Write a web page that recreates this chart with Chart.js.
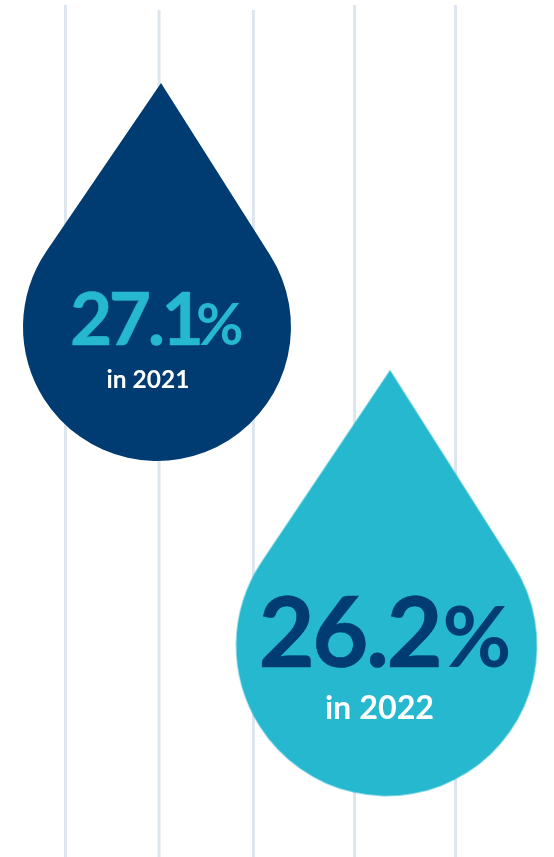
<!DOCTYPE html>
<html>
<head>
<meta charset="utf-8">
<title>Rate by year</title>
<script src="https://cdn.jsdelivr.net/npm/chart.js@4"></script>
<style>
  html, body { margin: 0; padding: 0; background: #ffffff; }
  canvas { display: block; }
</style>
</head>
<body>
<canvas id="dropChart" width="554" height="857"></canvas>
<script>
// Values shown on the drops
const years = [2021, 2022];
const rates = [27.1, 26.2];

// Vertical rules behind the drops, in axis units
const ruleYears = [2020.601, 2021.009, 2021.42, 2021.861, 2022.301];
const ruleTops = [28.01, 27.996, 27.996, 28.01, 28.01];
const ruleBottom = 25.6;

const NAVY = '#003c71';
const TEAL = '#25b8ce';
const RULE = '#dde6ef';

// Drop shape: circle of radius r plus a tip at (tipX, tipY) from its centre.
// The canvas is centred on the circle so the point lands on the circle centre.
function makeDrop(color, r, tipX, tipY) {
  const half = Math.ceil(Math.max(r, Math.hypot(tipX, tipY))) + 2;
  const c = document.createElement('canvas');
  c.width = half * 2;
  c.height = half * 2;
  const ctx = c.getContext('2d');
  const d = Math.hypot(tipX, tipY);
  const base = Math.atan2(tipY, tipX);
  const spread = Math.acos(r / d);
  ctx.translate(half, half);
  ctx.beginPath();
  ctx.moveTo(tipX, tipY);
  ctx.arc(0, 0, r, base + spread, base - spread + Math.PI * 2);
  ctx.closePath();
  ctx.fillStyle = color;
  ctx.fill();
  return c;
}

const drops = [
  makeDrop(NAVY, 134, 4, -244),
  makeDrop(TEAL, 150.5, 3.5, -275.5)
];

// Text layout for each drop, relative to the drawn point
const labelStyles = [
  { color: TEAL, size: 73, pctSize: 58, x: -87, y: 18, pctX: 39, subSize: 24.5, subY: 60.5, subX: -9, spacing: -3.5 },
  { color: NAVY, size: 97, pctSize: 84, x: -128, y: 21.5, pctX: 56, subSize: 32.3, subY: 73.5, subX: -7, spacing: -2.5 }
];

const dropLabels = {
  id: 'dropLabels',
  afterDatasetsDraw(chart) {
    const ctx = chart.ctx;
    const points = chart.getDatasetMeta(0).data;
    ctx.save();
    ctx.textBaseline = 'alphabetic';
    ctx.fontKerning = 'normal';
    ctx.textRendering = 'optimizeLegibility';
    points.forEach((pt, i) => {
      const s = labelStyles[i];
      ctx.fillStyle = s.color;
      ctx.strokeStyle = s.color;
      ctx.lineWidth = 0.6;
      ctx.textAlign = 'left';
      ctx.font = '700 ' + s.size + 'px Lato';
      ctx.letterSpacing = s.spacing + 'px';
      ctx.fillText(rates[i].toFixed(1), pt.x + s.x, pt.y + s.y);
      ctx.strokeText(rates[i].toFixed(1), pt.x + s.x, pt.y + s.y);
      ctx.letterSpacing = '0px';
      ctx.font = '700 ' + s.pctSize + 'px Lato';
      ctx.fillText('%', pt.x + s.pctX, pt.y + s.y);
      ctx.fillStyle = '#ffffff';
      ctx.textAlign = 'center';
      ctx.font = '700 ' + s.subSize + 'px Lato';
      ctx.fillText('in ' + years[i], pt.x + s.subX, pt.y + s.subY);
    });
    ctx.restore();
  }
};

const ruleSets = ruleYears.map((yr, i) => ({
  data: [{ x: yr, y: ruleTops[i] }, { x: yr, y: ruleBottom }],
  showLine: true,
  borderColor: RULE,
  borderWidth: 3,
  pointRadius: 0
}));

new Chart(document.getElementById('dropChart'), {
  type: 'scatter',
  data: {
    datasets: [{
      label: 'Rate',
      data: years.map((yr, i) => ({ x: yr, y: rates[i] })),
      pointStyle: drops,
      pointRadius: 10,
      clip: false
    }].concat(ruleSets)
  },
  options: {
    responsive: false,
    animation: false,
    layout: { padding: 0, autoPadding: false },
    plugins: { legend: { display: false }, tooltip: { enabled: false } },
    scales: {
      x: { type: 'linear', display: false, min: 2020.3159, max: 2022.7298 },
      y: { type: 'linear', display: false, min: 25.6024, max: 28.024 }
    }
  },
  plugins: [dropLabels]
});
</script>
</body>
</html>
